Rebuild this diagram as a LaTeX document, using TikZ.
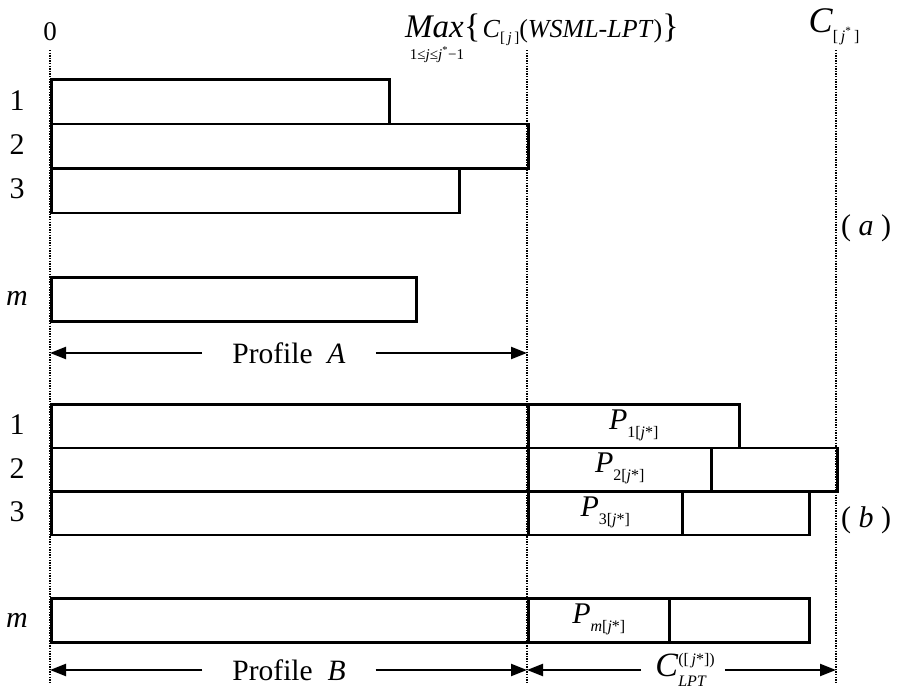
\documentclass[tikz,border=0pt]{standalone}
\usepackage{fontspec}
\setmainfont{Liberation Serif}
\usetikzlibrary{arrows.meta}

\newcommand\fsz[1]{\fontsize{#1}{#1}\selectfont}
% processing-time label P_{i[j*]}
\newcommand\ptime[1]{\fsz{30}\textit{P}\raisebox{-8pt}{\fsz{16}#1[\textit{j}*]}}

\tikzset{
  job/.style={draw, line width=2.6pt, inner sep=0pt, anchor=north west},
  guide/.style={line width=1.7pt, dash pattern=on 1.3pt off 1.3pt},
  span/.style={line width=2.3pt, -{Triangle[length=16pt,width=12pt]}},
  rowlab/.style={font=\fsz{30}, inner sep=0pt},
  txt/.style={inner sep=0pt},
}

\begin{document}
\begin{tikzpicture}[x=1pt,y=-1pt]
\useasboundingbox (0,0) rectangle (898,691);

% time guides
\coordinate (g0t) at (50,50);   \coordinate (g0b) at (50,684);
\coordinate (g1t) at (527,50);  \coordinate (g1b) at (527,684);
\coordinate (g2t) at (836,50);  \coordinate (g2b) at (836,684);
\draw[guide] (g0t) -- (g0b);
\draw[guide] (g1t) -- (g1b);
\draw[guide] (g2t) -- (g2b);

% axis labels
\node[txt, font=\fsz{27}] (zero) at (50,32) {0};
\node[txt, anchor=base west, font=\fsz{33}] (maxop) at (405,37) {\textit{Max}};
\node[txt, anchor=base west] (maxarg) at (maxop.base east)
  {{\fsz{34}\{}\hspace{2pt}{\fsz{26}\textit{C}\raisebox{-5pt}{\fsz{15}[\,\textit{j}\,]}(\textit{WSML-LPT})}{\fsz{34}\}}};
\node[txt, anchor=base, font=\fsz{15}] (maxsub) at (437,59)
  {1≤\textit{j}≤\textit{j}\textsuperscript{*}−1};
\node[txt, anchor=base] (cend) at (834,32)
  {\fsz{36}\textit{C}\raisebox{-9pt}{\fsz{16}[\,\textit{j}\textsuperscript{*}\,]}};

% (a) schedule of the first j*-1 jobs
\node[job, minimum width=338pt, minimum height=44.5pt] (a1) at (50,78) {};
\node[job, minimum width=477pt, minimum height=44.5pt] (a2) at (50,122.5) {};
\node[job, minimum width=408pt, minimum height=44.5pt] (a3) at (50,167) {};
\node[job, minimum width=365pt, minimum height=44pt] (am) at (50,276) {};

\node[rowlab] (la1) at (17,101) {1};
\node[rowlab] (la2) at (17,145) {2};
\node[rowlab] (la3) at (17,189) {3};
\node[rowlab] (lam) at (17,298) {\textit{m}};

\node[txt, font=\fsz{29.5}] (pa) at (289,353) {Profile \ \textit{A}};
\coordinate (paL) at (50,353);
\coordinate (paR) at (527,353);
\draw[span] (pa.west) ++(-30pt,0) -- (paL);
\draw[span] (pa.east) ++(30pt,0) -- (paR);

\node[txt, font=\fsz{30}] (lblA) at (866,228) {( \textit{a} )};

% (b) profile plus the LPT schedule of job j*
\node[job, minimum width=477pt, minimum height=43.5pt] (b1) at (50,403) {};
\node[job, minimum width=211pt, minimum height=43.5pt] (b1p) at (527,403) {};
\node[job, minimum width=477pt, minimum height=43.5pt] (b2) at (50,446.5) {};
\node[job, minimum width=183pt, minimum height=43.5pt] (b2p) at (527,446.5) {};
\node[job, minimum width=126pt, minimum height=43.5pt] (b2r) at (710,446.5) {};
\node[job, minimum width=477pt, minimum height=43.5pt] (b3) at (50,490) {};
\node[job, minimum width=154pt, minimum height=43.5pt] (b3p) at (527,490) {};
\node[job, minimum width=127pt, minimum height=43.5pt] (b3r) at (681,490) {};
\node[job, minimum width=477pt, minimum height=44pt] (bm) at (50,597) {};
\node[job, minimum width=141pt, minimum height=44pt] (bmp) at (527,597) {};
\node[job, minimum width=140pt, minimum height=44pt] (bmr) at (668,597) {};

\node[txt] (p1) at ([yshift=1pt]b1p.center) {\ptime{1}};
\node[txt] (p2) at ([yshift=1pt]b2p.center) {\ptime{2}};
\node[txt] (p3) at ([yshift=1pt]b3p.center) {\ptime{3}};
\node[txt] (pm) at ([yshift=1pt]bmp.center) {\ptime{\textit{m}}};

\node[rowlab] (lb1) at (17,425) {1};
\node[rowlab] (lb2) at (17,469) {2};
\node[rowlab] (lb3) at (17,512) {3};
\node[rowlab] (lbm) at (17,620) {\textit{m}};

\node[txt, font=\fsz{29.5}] (pb) at (289,670) {Profile \ \textit{B}};
\coordinate (pbL) at (50,670);
\coordinate (pbR) at (527,670);
\draw[span] (pb.west) ++(-30pt,0) -- (pbL);
\draw[span] (pb.east) ++(30pt,0) -- (pbR);

\node[txt] (clpt) at (685,670)
  {\fsz{34}\textit{C}\rlap{\raisebox{-10pt}{\fsz{16}\textit{LPT}}}\raisebox{12pt}{\fsz{16}([\,\textit{j}*])}};
\coordinate (ccL) at (527,670);
\coordinate (ccR) at (836,670);
\draw[span] (clpt.west) ++(-14pt,0) -- (ccL);
\draw[span] (clpt.east) ++(10pt,0) -- (ccR);

\node[txt, font=\fsz{30}] (lblB) at (866,520) {( \textit{b} )};
\end{tikzpicture}
\end{document}
